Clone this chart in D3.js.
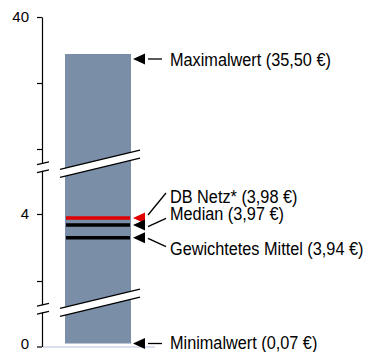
<!DOCTYPE html>
<html>
<head>
<meta charset="utf-8">
<script src="https://cdn.jsdelivr.net/npm/d3@7"></script>
<style>
  html, body { margin: 0; padding: 0; background: #fff; }
  svg { display: block; }
</style>
</head>
<body>
<svg id="chart" width="371" height="352"></svg>
<script>
// ---- data ----
const categories = ["Preis"];
const rangeMin = 0.07;
const rangeMax = 35.50;
const markerLabels = ["Maximalwert (35,50 €)", "DB Netz* (3,98 €)", "Median (3,97 €)", "Gewichtetes Mittel (3,94 €)", "Minimalwert (0,07 €)"];
const markerValues = [35.50, 3.98, 3.97, 3.94, 0.07];
const markerKinds = ["end", "line", "line", "line", "end"];
const markerColors = ["#000000", "#e00000", "#000000", "#000000", "#000000"];
const tickValues = [0, 3, 4, 20, 30, 40];
const tickLabels = ["0", "", "4", "", "", "40"];
const breakValues = [1.7, 15.5];

// ---- layout ----
const W = 371, H = 352;
const axisX = 42;
// schematic (broken, non-linear) value axis: anchors of the piecewise scale
const yAnchorValues = [0, 0.07, 3, 3.94, 3.97, 3.98, 4, 20, 30, 35.5, 40];
const yAnchorPixels = [346.5, 343.5, 281, 237.7, 225, 218, 214, 149, 83, 54, 17];
const arrowDy = [5, 0, 0, 0, 0];
const labelBaselineDy = [7, -15.5, -4.8, 17.3, 5];
const leaderStartDy = [0, -3, 1.7, 0.6, 0];
const leaderEndDy = [0, -25, -6.7, 9, 0];
const bandDy = [-6, -3.5];

const svg = d3.select("#chart");
const y = d3.scaleLinear().domain(yAnchorValues).range(yAnchorPixels);
const x = d3.scaleBand().domain(categories).range([axisX + 23, axisX + 89]);

// baseline
svg.append("line")
  .attr("x1", axisX + 1).attr("x2", 155)
  .attr("y1", y(0) + 0.5).attr("y2", y(0) + 0.5)
  .attr("stroke", "#cdd5e6").attr("stroke-width", 1.5);

// bar (min..max)
svg.append("rect")
  .attr("x", x("Preis"))
  .attr("width", x.bandwidth())
  .attr("y", y(rangeMax))
  .attr("height", y(rangeMin) - y(rangeMax))
  .attr("fill", "#7a8ea8");

// marker lines inside the bar
markerValues.forEach((v, i) => {
  if (markerKinds[i] !== "line") return;
  svg.append("line")
    .attr("x1", x("Preis") + 1).attr("x2", x("Preis") + x.bandwidth() - 1)
    .attr("y1", y(v)).attr("y2", y(v))
    .attr("stroke", markerColors[i]).attr("stroke-width", 3.5);
});

// axis
const axis = d3.axisLeft(y)
  .tickValues(tickValues)
  .tickFormat((d, i) => tickLabels[i])
  .tickSize(5).tickSizeOuter(0).tickPadding(8);
const gAxis = svg.append("g").attr("transform", `translate(${axisX},0)`).call(axis);
gAxis.select(".domain").attr("stroke", "#000").attr("stroke-width", 1.2);
gAxis.selectAll(".tick line").attr("stroke", "#000").attr("stroke-width", 1.2);
gAxis.selectAll(".tick text")
  .attr("font-family", "Liberation Sans, Arial, sans-serif")
  .attr("font-size", 15).attr("fill", "#000");
gAxis.selectAll(".tick").filter(d => d === 0).select("text").attr("dy", "0.15em");

// breaks
breakValues.forEach((bv, i) => {
  const yb = y(bv);
  svg.append("rect").attr("x", axisX - 2).attr("y", yb - 3.5).attr("width", 4).attr("height", 7).attr("fill", "#fff");
  [-4, 4].forEach(d => {
    svg.append("line")
      .attr("x1", axisX - 5).attr("x2", axisX + 7)
      .attr("y1", yb + d + 1.4).attr("y2", yb + d - 1.4)
      .attr("stroke", "#000").attr("stroke-width", 1.2);
  });
  const yc = yb + bandDy[i];
  const x0 = 60, x1 = 140, half = 9.65, gap = 4;
  svg.append("polygon")
    .attr("points", [[x0, yc + half - gap], [x1, yc - half - gap], [x1, yc - half + gap], [x0, yc + half + gap]].map(p => p.join(",")).join(" "))
    .attr("fill", "#fff");
  [-gap, gap].forEach(d => {
    svg.append("line")
      .attr("x1", x0).attr("y1", yc + half + d)
      .attr("x2", x1).attr("y2", yc - half + d)
      .attr("stroke", "#000").attr("stroke-width", 1.3);
  });
});

// arrows, leaders and labels
const tipX = x("Preis") + x.bandwidth() + 2;
markerValues.forEach((v, i) => {
  const ay = y(v) + arrowDy[i];
  svg.append("path")
    .attr("d", `M${tipX},${ay} L${tipX + 12},${ay - 5.5} L${tipX + 12},${ay + 5.5} Z`)
    .attr("fill", markerColors[i]);
  if (markerKinds[i] === "end") {
    svg.append("line")
      .attr("x1", tipX + 15).attr("x2", tipX + 29)
      .attr("y1", ay).attr("y2", ay)
      .attr("stroke", "#000").attr("stroke-width", 1.3);
  } else {
    svg.append("line")
      .attr("x1", tipX + 15).attr("y1", ay + leaderStartDy[i])
      .attr("x2", tipX + 33).attr("y2", ay + leaderEndDy[i])
      .attr("stroke", "#000").attr("stroke-width", 1.3);
  }
  svg.append("text")
    .attr("transform", `translate(${tipX + 37},${ay + labelBaselineDy[i]}) scale(0.88,1)`)
    .attr("font-family", "Liberation Sans, Arial, sans-serif")
    .attr("font-size", 18.5)
    .attr("fill", "#000")
    .text(markerLabels[i]);
});
</script>
</body>
</html>
